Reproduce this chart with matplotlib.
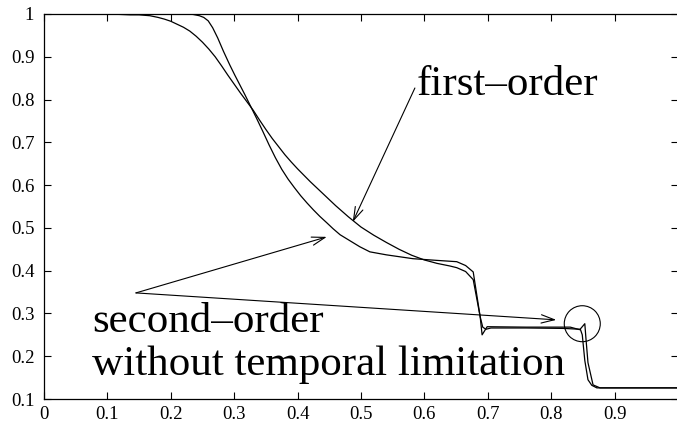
import numpy as np
import matplotlib.pyplot as plt
from matplotlib.patches import Ellipse

plt.rcParams['font.family'] = ['Liberation Serif', 'DejaVu Serif']

# first-order solution
x_first = [0.0, 0.10, 0.12, 0.136, 0.15, 0.167, 0.18, 0.19, 0.20, 0.21, 0.22,
           0.23, 0.24, 0.25, 0.26, 0.27, 0.28, 0.29, 0.30, 0.31, 0.32, 0.33,
           0.34, 0.35, 0.36, 0.37, 0.38, 0.39, 0.40, 0.41, 0.42, 0.43, 0.44,
           0.45, 0.46, 0.47, 0.48, 0.49, 0.50, 0.52, 0.54, 0.56, 0.58, 0.60,
           0.62, 0.64, 0.651, 0.665, 0.677, 0.688, 0.692, 0.697, 0.705, 0.760,
           0.820, 0.846, 0.849, 0.853, 0.858, 0.864, 0.872, 1.0]
y_first = [1.0, 1.0, 0.999, 0.998, 0.998, 0.996, 0.992, 0.988, 0.983, 0.976,
           0.969, 0.960, 0.948, 0.934, 0.918, 0.900, 0.879, 0.857, 0.836, 0.815,
           0.795, 0.775, 0.752, 0.730, 0.709, 0.690, 0.671, 0.654, 0.638, 0.623,
           0.608, 0.594, 0.580, 0.566, 0.552, 0.539, 0.526, 0.514, 0.502, 0.483,
           0.466, 0.450, 0.436, 0.425, 0.417, 0.411, 0.407, 0.398, 0.379, 0.292,
           0.268, 0.263, 0.266, 0.266, 0.265, 0.263, 0.250, 0.190, 0.145, 0.132,
           0.126, 0.126]

# second-order solution without temporal limitation
x_second = [0.0, 0.220, 0.235, 0.245, 0.252, 0.259, 0.266, 0.274, 0.283, 0.293,
            0.301, 0.309, 0.317, 0.325, 0.335, 0.345, 0.355, 0.365, 0.375, 0.385,
            0.395, 0.405, 0.415, 0.425, 0.435, 0.446, 0.456, 0.467, 0.498, 0.514,
            0.540, 0.582, 0.620, 0.651, 0.665, 0.677, 0.688, 0.691, 0.699, 0.760,
            0.830, 0.845, 0.853, 0.855, 0.858, 0.866, 0.877, 1.0]
y_second = [1.0, 1.0, 0.999, 0.996, 0.992, 0.984, 0.968, 0.944, 0.913, 0.881,
            0.857, 0.834, 0.811, 0.787, 0.757, 0.726, 0.694, 0.664, 0.637, 0.614,
            0.594, 0.575, 0.558, 0.542, 0.527, 0.512, 0.498, 0.484, 0.456, 0.444,
            0.437, 0.428, 0.424, 0.421, 0.412, 0.397, 0.292, 0.250, 0.269, 0.268,
            0.268, 0.262, 0.276, 0.238, 0.185, 0.133, 0.126, 0.126]

xticks = [0, 0.1, 0.2, 0.3, 0.4, 0.5, 0.6, 0.7, 0.8, 0.9]
xticklabels = ['0', '0.1', '0.2', '0.3', '0.4', '0.5', '0.6', '0.7', '0.8', '0.9']
yticks = [0.1, 0.2, 0.3, 0.4, 0.5, 0.6, 0.7, 0.8, 0.9, 1.0]
yticklabels = ['0.1', '0.2', '0.3', '0.4', '0.5', '0.6', '0.7', '0.8', '0.9', '1']

W, H = 677, 423
fig = plt.figure(figsize=(W / 100, H / 100), dpi=100)
ax = fig.add_axes([44 / W, 1 - 399 / H, 634 / W, 385 / H])

ax.plot(x_first, y_first, color='black', lw=0.9)
ax.plot(x_second, y_second, color='black', lw=0.9)

ax.set_xlim(0, 1)
ax.set_ylim(0.1, 1)
ax.set_xticks(xticks)
ax.set_xticklabels(xticklabels)
ax.set_yticks(yticks)
ax.set_yticklabels(yticklabels)
ax.tick_params(direction='in', length=5, width=0.8, top=True, right=True,
               labelsize=13.5)
ax.tick_params(axis='x', pad=5)
ax.tick_params(axis='y', pad=7)
for sp in ax.spines.values():
    sp.set_linewidth(0.9)

# labels and arrows
ax.text(0.587, 0.811, 'first–order', fontsize=31, va='baseline', ha='left')
ax.text(0.0757, 0.257, 'second–order', fontsize=31, va='baseline', ha='left')
ax.text(0.0757, 0.157, 'without temporal limitation', fontsize=31,
        va='baseline', ha='left')

arrow = dict(arrowstyle='->,head_length=0.95,head_width=0.3', color='black',
             lw=0.8, shrinkA=0, shrinkB=0)
ax.annotate('', xy=(0.487, 0.514), xytext=(0.585, 0.827), arrowprops=arrow)
ax.annotate('', xy=(0.446, 0.479), xytext=(0.145, 0.348), arrowprops=arrow)
ax.annotate('', xy=(0.808, 0.285), xytext=(0.145, 0.348), arrowprops=arrow)

ax.add_patch(Ellipse((0.849, 0.276), 36 / 634, 36 / 428, fill=False,
                     edgecolor='black', lw=0.8))

fig.savefig('out.png', dpi=100)
